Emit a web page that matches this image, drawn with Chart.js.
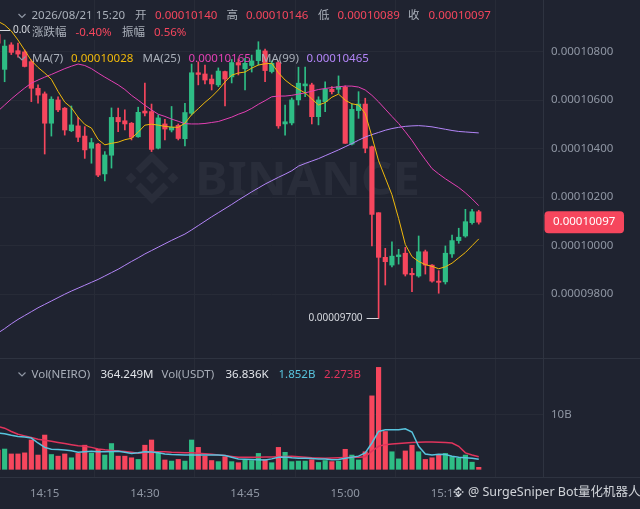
<!DOCTYPE html>
<html>
<head>
<meta charset="utf-8">
<title>NEIRO/USDT 1m</title>
<script src="https://cdn.jsdelivr.net/npm/chart.js@4.4.1/dist/chart.umd.min.js"></script>
<style>
  html, body { margin: 0; padding: 0; background: #1f2330; overflow: hidden; }
  canvas { display: block; }
</style>
</head>
<body>
<canvas id="graficoVelas" width="640" height="509"></canvas>
<script>
// Minutos a partir das 14:00 (8 = 14:08 ... 80 = 15:20), um candle por minuto
var minutos = [
    8, 9, 10, 11, 12, 13, 14, 15, 16, 17,
    18, 19, 20, 21, 22, 23, 24, 25, 26, 27,
    28, 29, 30, 31, 32, 33, 34, 35, 36, 37,
    38, 39, 40, 41, 42, 43, 44, 45, 46, 47,
    48, 49, 50, 51, 52, 53, 54, 55, 56, 57,
    58, 59, 60, 61, 62, 63, 64, 65, 66, 67,
    68, 69, 70, 71, 72, 73, 74, 75, 76, 77,
    78, 79, 80
];

// Precos em unidades de 0.00000001 (10140 = 0.00010140)
var abertura = [
    10870, 10727, 10828, 10804, 10799, 10759, 10649, 10626, 10505, 10601,
    10567, 10474, 10494, 10452, 10402, 10419, 10296, 10373, 10529, 10515,
    10505, 10449, 10555, 10553, 10402, 10502, 10477, 10496, 10441, 10546,
    10713, 10708, 10687, 10663, 10718, 10696, 10755, 10729, 10743, 10763,
    10803, 10718, 10755, 10502, 10506, 10601, 10659, 10663, 10532, 10594,
    10645, 10645, 10653, 10419, 10557, 10584, 10408, 10136, 9952, 9920,
    9955, 9969, 9886, 9875, 9975, 9920, 9854, 9851, 9966, 10021,
    10040, 10095, 10140
];
var maxima = [
    10889, 10848, 10837, 10835, 10807, 10766, 10663, 10634, 10614, 10614,
    10570, 10576, 10529, 10491, 10443, 10422, 10388, 10568, 10567, 10560,
    10508, 10571, 10670, 10584, 10539, 10521, 10574, 10502, 10587, 10749,
    10758, 10745, 10704, 10733, 10720, 10768, 10770, 10773, 10786, 10841,
    10811, 10762, 10762, 10580, 10609, 10736, 10736, 10670, 10614, 10676,
    10656, 10700, 10659, 10584, 10635, 10608, 10411, 10136, 9989, 10016,
    9985, 9993, 9907, 10040, 9982, 9922, 9897, 9999, 10044, 10072,
    10150, 10150, 10146
];
var minima = [
    10820, 10676, 10788, 10777, 10737, 10594, 10588, 10378, 10452, 10553,
    10456, 10470, 10429, 10360, 10340, 10285, 10267, 10320, 10470, 10477,
    10436, 10447, 10535, 10388, 10399, 10436, 10469, 10436, 10411, 10539,
    10663, 10667, 10642, 10656, 10576, 10671, 10704, 10642, 10716, 10745,
    10676, 10712, 10484, 10456, 10498, 10580, 10614, 10502, 10498, 10553,
    10626, 10628, 10422, 10415, 10525, 10383, 9999, 9700, 9838, 9913,
    9924, 9875, 9810, 9870, 9883, 9850, 9804, 9842, 9952, 10010,
    10035, 10089, 10089
];
var fechamento = [
    10835, 10823, 10797, 10790, 10739, 10649, 10621, 10505, 10604, 10560,
    10477, 10498, 10447, 10395, 10425, 10291, 10374, 10529, 10511, 10502,
    10447, 10550, 10547, 10397, 10527, 10481, 10488, 10442, 10549, 10713,
    10706, 10683, 10667, 10720, 10687, 10755, 10745, 10752, 10762, 10807,
    10722, 10752, 10494, 10511, 10601, 10670, 10667, 10532, 10601, 10645,
    10635, 10656, 10422, 10562, 10584, 10402, 10129, 9952, 9934, 9957,
    9962, 9883, 9880, 9975, 9920, 9854, 9849, 9969, 10021, 10035,
    10099, 10140, 10097
];

// Medias moveis
var ma7 = [
    10925, 10910, 10885, 10848, 10806, 10763, 10735, 10712, 10686, 10636,
    10592, 10569, 10530, 10500, 10485, 10438, 10416, 10422, 10427, 10437,
    10443, 10468, 10497, 10501, 10497, 10492, 10489, 10488, 10505, 10540,
    10565, 10591, 10614, 10642, 10675, 10703, 10712, 10716, 10732, 10745,
    10750, 10752, 10713, 10683, 10662, 10645, 10630, 10605, 10580, 10590,
    10612, 10625, 10600, 10585, 10580, 10545, 10450, 10350, 10280, 10210,
    10112, 10005, 9955, 9935, 9922, 9915, 9905, 9913, 9928, 9950,
    9972, 10000, 10028
];
var ma25 = [
    10555, 10580, 10605, 10628, 10650, 10670, 10683, 10695, 10706, 10718,
    10730, 10740, 10749, 10743, 10730, 10712, 10695, 10679, 10663, 10644,
    10620, 10600, 10579, 10560, 10542, 10533, 10522, 10513, 10503, 10502,
    10502, 10504, 10508, 10512, 10521, 10530, 10542, 10552, 10566, 10583,
    10598, 10614, 10617, 10617, 10620, 10625, 10630, 10637, 10644, 10648,
    10652, 10655, 10658, 10658, 10654, 10642, 10620, 10593, 10563, 10533,
    10504, 10470, 10434, 10393, 10355, 10318, 10296, 10276, 10258, 10240,
    10218, 10193, 10165
];
var ma99 = [
    9640, 9658, 9678, 9696, 9712, 9728, 9744, 9758, 9772, 9786,
    9800, 9813, 9825, 9837, 9849, 9861, 9875, 9889, 9903, 9919,
    9935, 9950, 9966, 9980, 9994, 10008, 10022, 10035, 10048, 10065,
    10083, 10101, 10119, 10136, 10153, 10170, 10188, 10205, 10222, 10238,
    10254, 10268, 10282, 10295, 10309, 10328, 10339, 10349, 10359, 10371,
    10383, 10395, 10408, 10421, 10435, 10448, 10458, 10467, 10476, 10483,
    10488, 10492, 10494, 10495, 10493, 10490, 10485, 10480, 10475, 10471,
    10469, 10467, 10465
];

// Volume em bilhoes de NEIRO
var volume = [
    3.5, 3.7, 2.8, 2.8, 3.0, 5.35, 2.6, 6.25, 2.7, 2.4,
    2.8, 2.1, 2.9, 4.4, 2.95, 3.65, 2.6, 4.7, 2.4, 2.4,
    2.1, 1.8, 4.4, 5.35, 3.0, 1.7, 1.5, 1.8, 1.5, 5.35,
    4.0, 2.4, 1.6, 1.4, 2.3, 1.4, 1.2, 1.7, 1.6, 2.9,
    1.8, 1.2, 4.0, 3.1, 1.4, 1.5, 1.5, 1.75, 1.25, 1.6,
    1.4, 1.5, 3.65, 2.6, 1.7, 3.2, 13.4, 18.6, 6.9, 3.2,
    1.9, 3.35, 4.4, 3.2, 1.8, 2.1, 2.6, 2.9, 2.3, 2.0,
    2.6, 1.3, 0.36
];
var volMa5 = [
    6.6, 6.5, 6.2, 6.0, 5.9, 5.7, 4.8, 4.0, 3.65, 3.6,
    3.5, 3.4, 3.1, 3.2, 3.3, 3.2, 3.2, 3.25, 3.3, 3.1,
    2.9, 3.0, 3.2, 3.15, 3.0, 2.8, 2.7, 2.65, 2.6, 2.6,
    2.6, 2.6, 2.6, 2.6, 2.5, 2.2, 1.9, 1.85, 1.8, 1.75,
    1.7, 1.9, 2.2, 2.25, 2.1, 2.0, 2.0, 1.95, 1.9, 1.9,
    1.75, 1.8, 2.0, 2.2, 2.4, 3.0, 4.8, 6.9, 7.2, 7.2,
    7.2, 7.4, 6.8, 4.2, 2.8, 2.6, 2.75, 2.7, 2.4, 2.2,
    2.1, 2.0, 1.85
];
var volMa10 = [
    7.8, 7.5, 6.9, 6.4, 6.1, 5.8, 5.5, 5.3, 5.1, 4.9,
    4.7, 4.5, 4.3, 4.2, 4.0, 3.7, 3.55, 3.45, 3.35, 3.25,
    3.1, 2.95, 3.0, 3.15, 3.2, 3.2, 3.1, 3.05, 3.0, 3.0,
    2.95, 2.85, 2.75, 2.6, 2.5, 2.35, 2.2, 2.2, 2.2, 2.2,
    2.25, 2.25, 2.3, 2.35, 2.4, 2.3, 2.2, 2.1, 2.05, 2.0,
    2.05, 2.1, 2.15, 2.2, 2.2, 2.3, 3.3, 4.2, 4.5, 4.6,
    4.7, 4.8, 4.9, 4.95, 5.0, 5.0, 4.95, 4.9, 4.8, 4.2,
    3.0, 2.6, 2.3
];

// Marcas dos eixos
var ticksPreco = [9800, 10000, 10200, 10400, 10600, 10800];
var ticksVolume = [10];
var ticksTempo = [15, 30, 45, 60, 75];

// Cores do tema escuro
var FUNDO = '#1f2330';
var GRADE = '#272b37';
var BORDA = '#2e3340';
var CINZA = '#8f96a3';
var TEXTO = '#a9afb9';
var VERDE = '#2ebd85';
var VERMELHO = '#f6465d';
var COR_MA7 = '#f0b90b';
var COR_MA25 = '#e440b4';
var COR_MA99 = '#b385f8';
var COR_VMA5 = '#58c4dd';
var COR_VMA10 = '#e0345c';
var MARCA = '#292d3a';
var FONTE = '"Noto Sans", "Noto Sans CJK SC", sans-serif';

function formatarPreco(v) {
    return (v / 1e8).toFixed(8);
}

function formatarHora(m) {
    var h = 14 + Math.floor(m / 60);
    var mm = m % 60;
    return h + ':' + (mm < 10 ? '0' + mm : mm);
}

// Cor de cada candle: verde se fechou acima da abertura
var cores = fechamento.map(function (c, i) {
    return c >= abertura[i] ? VERDE : VERMELHO;
});

function pontos(valores) {
    return minutos.map(function (m, i) { return { x: m, y: valores[i] }; });
}

// Sem margens extras nas escalas
function zerarMargens(s) {
    s.paddingTop = 0;
    s.paddingBottom = 0;
    s.paddingLeft = 0;
    s.paddingRight = 0;
}

function losango(ctx, x, y, r) {
    ctx.beginPath();
    ctx.moveTo(x, y - r);
    ctx.lineTo(x + r, y);
    ctx.lineTo(x, y + r);
    ctx.lineTo(x - r, y);
    ctx.closePath();
    ctx.fill();
}

// Logo da Binance simplificado
function desenharLogo(ctx, cx, cy, s, cor) {
    ctx.save();
    ctx.translate(cx, cy);
    ctx.scale(s, s);
    ctx.fillStyle = cor;
    ctx.strokeStyle = cor;
    losango(ctx, 0, 0, 6);
    losango(ctx, -21, 0, 5.5);
    losango(ctx, 21, 0, 5.5);
    ctx.lineWidth = 7;
    ctx.lineJoin = 'miter';
    ctx.beginPath();
    ctx.moveTo(-14, -7); ctx.lineTo(0, -21); ctx.lineTo(14, -7);
    ctx.stroke();
    ctx.beginPath();
    ctx.moveTo(-14, 7); ctx.lineTo(0, 21); ctx.lineTo(14, 7);
    ctx.stroke();
    ctx.restore();
}

function seta(ctx, x, y) {
    ctx.save();
    ctx.strokeStyle = CINZA;
    ctx.lineWidth = 1.2;
    ctx.beginPath();
    ctx.moveTo(x, y - 1.5);
    ctx.lineTo(x + 3.5, y + 2);
    ctx.lineTo(x + 7, y - 1.5);
    ctx.stroke();
    ctx.restore();
}

function escrever(ctx, itens, y) {
    ctx.font = '11.5px ' + FONTE;
    ctx.textBaseline = 'middle';
    ctx.textAlign = 'left';
    itens.forEach(function (it) {
        ctx.fillStyle = it[2];
        ctx.fillText(it[0], it[1], y);
    });
}

// Marcador de maxima / minima visivel
function marcador(ctx, px, py, valor, area) {
    var esquerda = px > (area.left + area.right) / 2;
    var texto = formatarPreco(valor);
    ctx.save();
    ctx.strokeStyle = '#d5d8de';
    ctx.fillStyle = '#d5d8de';
    ctx.lineWidth = 1;
    ctx.font = '10px ' + FONTE;
    ctx.textBaseline = 'middle';
    var y = Math.round(py) + 0.5;
    ctx.beginPath();
    if (esquerda) {
        ctx.moveTo(px, y); ctx.lineTo(px - 12, y);
        ctx.textAlign = 'right';
        ctx.stroke();
        ctx.fillText(texto, px - 16, py);
    } else {
        ctx.moveTo(px, y); ctx.lineTo(px + 12, y);
        ctx.textAlign = 'left';
        ctx.stroke();
        ctx.fillText(texto, px + 15, py);
    }
    ctx.restore();
}

var pluginPainel = {
    id: 'painel',
    beforeDraw: function (chart) {
        var ctx = chart.ctx;
        ctx.save();
        ctx.fillStyle = FUNDO;
        ctx.fillRect(0, 0, chart.width, chart.height);
        ctx.restore();
    },
    beforeDatasetsDraw: function (chart) {
        var ctx = chart.ctx;
        // marca d'agua BINANCE
        desenharLogo(ctx, 152, 178, 1, MARCA);
        ctx.save();
        ctx.font = 'bold 46px ' + FONTE;
        ctx.fillStyle = MARCA;
        ctx.textBaseline = 'alphabetic';
        var w = ctx.measureText('BINANCE').width;
        ctx.translate(195, 195);
        ctx.scale(225 / w, 1);
        ctx.fillText('BINANCE', 0, 0);
        ctx.restore();

        // linhas que separam os paineis
        var yv = chart.scales.yv;
        ctx.save();
        ctx.strokeStyle = BORDA;
        ctx.lineWidth = 1;
        ctx.beginPath();
        ctx.moveTo(0, Math.round(yv.top) + 0.5);
        ctx.lineTo(chart.width, Math.round(yv.top) + 0.5);
        ctx.moveTo(0, Math.round(yv.bottom) + 0.5);
        ctx.lineTo(chart.width, Math.round(yv.bottom) + 0.5);
        ctx.stroke();
        ctx.restore();
    },
    afterDatasetsDraw: function (chart) {
        var ctx = chart.ctx;
        var x = chart.scales.x, y = chart.scales.y;
        var iMax = maxima.indexOf(Math.max.apply(null, maxima));
        var iMin = minima.indexOf(Math.min.apply(null, minima));
        marcador(ctx, x.getPixelForValue(minutos[iMax]), y.getPixelForValue(maxima[iMax]), maxima[iMax], chart.chartArea);
        marcador(ctx, x.getPixelForValue(minutos[iMin]), y.getPixelForValue(minima[iMin]), minima[iMin], chart.chartArea);
    },
    afterDraw: function (chart) {
        var ctx = chart.ctx;
        var n = fechamento.length - 1;
        ctx.save();

        // linha 1: OHLC do ultimo candle
        seta(ctx, 18.5, 15.5);
        escrever(ctx, [
            ['2026/08/21 15:20', 31.5, TEXTO],
            ['开', 135, TEXTO], [formatarPreco(abertura[n]), 155, VERMELHO],
            ['高', 226.5, TEXTO], [formatarPreco(maxima[n]), 246, VERMELHO],
            ['低', 318, TEXTO], [formatarPreco(minima[n]), 337.5, VERMELHO],
            ['收', 408, TEXTO], [formatarPreco(fechamento[n]), 428.5, VERMELHO]
        ], 16);

        // linha 2: variacao e amplitude
        ctx.fillStyle = FUNDO;
        ctx.fillRect(30, 24, 162, 16);
        escrever(ctx, [
            ['涨跌幅', 32, TEXTO], ['-0.40%', 75.5, VERMELHO],
            ['振幅', 122, TEXTO], ['0.56%', 154, VERMELHO]
        ], 32.5);

        // linha 3: medias moveis
        seta(ctx, 18.5, 58);
        escrever(ctx, [
            ['MA(7)', 32, TEXTO], [formatarPreco(ma7[n]), 71, COR_MA7],
            ['MA(25)', 142.5, TEXTO], [formatarPreco(ma25[n]), 188.5, COR_MA25],
            ['MA(99)', 261, TEXTO], [formatarPreco(ma99[n]), 306.5, COR_MA99]
        ], 58.5);

        // legenda do volume
        seta(ctx, 18.5, 374);
        escrever(ctx, [
            ['Vol(NEIRO)', 31.5, TEXTO], ['364.249M', 100.5, '#e2e5ea'],
            ['Vol(USDT)', 161.5, TEXTO], ['36.836K', 225.5, '#e2e5ea'],
            ['1.852B', 278.5, COR_VMA5], ['2.273B', 324, COR_VMA10]
        ], 374.5);

        // etiqueta do ultimo preco
        var yc = chart.scales.y.getPixelForValue(fechamento[n]);
        ctx.fillStyle = cores[n];
        ctx.beginPath();
        ctx.roundRect(544.5, yc - 11, 79.5, 22, 4);
        ctx.fill();
        escrever(ctx, [[formatarPreco(fechamento[n]), 553, '#ffffff']], yc);

        // marca d'agua do canto
        desenharLogo(ctx, 458.5, 492, 0.2, '#d9dce1');
        ctx.font = '12.5px ' + FONTE;
        ctx.fillStyle = 'rgba(226,229,234,0.9)';
        ctx.textBaseline = 'middle';
        ctx.fillText('@ SurgeSniper Bot量化机器人', 468, 492);
        ctx.restore();
    }
};

var ctx = document.getElementById('graficoVelas').getContext('2d');

var graficoVelas = new Chart(ctx, {
    type: 'bar',
    data: {
        datasets: [
            { type: 'line', data: pontos(ma7), borderColor: COR_MA7, yAxisID: 'y', order: 0 },
            { type: 'line', data: pontos(ma25), borderColor: COR_MA25, yAxisID: 'y', order: 0 },
            { type: 'line', data: pontos(ma99), borderColor: COR_MA99, yAxisID: 'y', order: 0 },
            { type: 'line', data: pontos(volMa5), borderColor: COR_VMA5, borderWidth: 1.5, yAxisID: 'yv', order: 0 },
            { type: 'line', data: pontos(volMa10), borderColor: COR_VMA10, borderWidth: 1.5, yAxisID: 'yv', order: 0 },
            {
                // pavios
                data: minutos.map(function (m, i) { return { x: m, y: [minima[i], maxima[i]] }; }),
                backgroundColor: cores, barThickness: 1, yAxisID: 'y', order: 2
            },
            {
                // corpos
                data: minutos.map(function (m, i) { return { x: m, y: [abertura[i], fechamento[i]] }; }),
                backgroundColor: cores, barThickness: 4.5, minBarLength: 1, yAxisID: 'y', order: 1
            },
            {
                data: pontos(volume),
                backgroundColor: cores, barThickness: 4.5, yAxisID: 'yv', order: 1
            }
        ]
    },
    options: {
        responsive: false,
        animation: false,
        devicePixelRatio: 1,
        events: [],
        layout: { padding: 0 },
        datasets: {
            bar: { grouped: false, borderWidth: 0 },
            line: { pointRadius: 0, borderWidth: 1, tension: 0 }
        },
        plugins: {
            legend: { display: false },
            tooltip: { enabled: false }
        },
        scales: {
            x: {
                type: 'linear',
                min: 8.306,
                max: 89.62,
                offset: false,
                grid: { color: GRADE, drawTicks: false },
                border: { color: BORDA },
                ticks: {
                    color: CINZA,
                    font: { family: FONTE, size: 11.5 },
                    padding: 10,
                    maxRotation: 0,
                    callback: function (v) { return formatarHora(v); }
                },
                afterBuildTicks: function (s) {
                    s.ticks = ticksTempo.map(function (v) { return { value: v }; });
                },
                afterFit: function (s) { s.height = 32; zerarMargens(s); }
            },
            y: {
                type: 'linear',
                position: 'right',
                stack: 'paineis',
                stackWeight: 358,
                min: 9537,
                max: 11013,
                grid: { color: GRADE, drawTicks: false },
                border: { color: BORDA },
                ticks: {
                    color: CINZA,
                    font: { family: FONTE, size: 11.5 },
                    padding: 8,
                    callback: function (v) { return formatarPreco(v); }
                },
                afterBuildTicks: function (s) {
                    s.ticks = ticksPreco.map(function (v) { return { value: v }; });
                },
                afterFit: function (s) { s.width = 97; zerarMargens(s); }
            },
            yv: {
                type: 'linear',
                position: 'right',
                stack: 'paineis',
                stackWeight: 119,
                min: -1.405,
                max: 20.31,
                grid: { color: GRADE, drawTicks: false },
                border: { color: BORDA },
                ticks: {
                    color: CINZA,
                    font: { family: FONTE, size: 11.5 },
                    padding: 8,
                    callback: function (v) { return v + 'B'; }
                },
                afterBuildTicks: function (s) {
                    s.ticks = ticksVolume.map(function (v) { return { value: v }; });
                },
                afterFit: function (s) { s.width = 97; zerarMargens(s); }
            }
        }
    },
    plugins: [pluginPainel]
});
</script>
</body>
</html>
